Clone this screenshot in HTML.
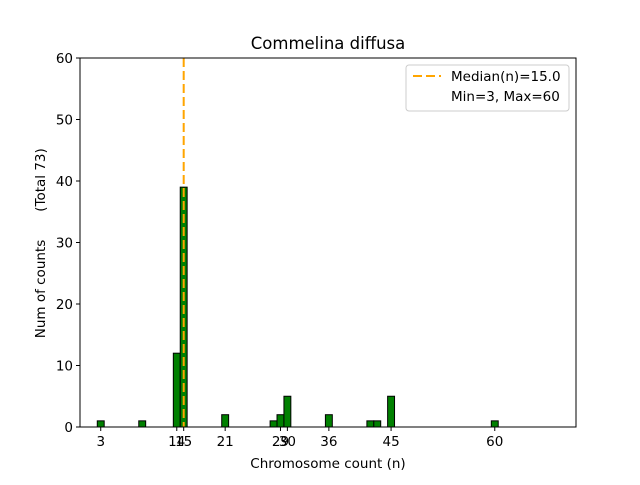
<!DOCTYPE html>
<html><head><meta charset="utf-8"><style>
body{margin:0;background:#fff;font-family:"Liberation Sans","DejaVu Sans",sans-serif}
svg text{font-family:"DejaVu Sans","Liberation Sans",sans-serif}
</style></head><body>
<svg id="c" width="640" height="480"></svg>
<script>
const counts=[3,9,14,15,21,28,29,30,36,42,43,45,60];
const freqs=[1,1,12,39,2,1,2,5,2,1,1,5,1];
const xTicks=[3,14,15,21,29,30,36,45,60];
const yTicks=[0,10,20,30,40,50,60];
const median=15.0;
const L=80,R=576,T=58,B=427,xMin=0,xMax=71.75,yMax=60;
const X=v=>L+(v-xMin)/(xMax-xMin)*(R-L);
const Y=v=>B-v/yMax*(B-T);
const s=document.getElementById('c');const NS='http://www.w3.org/2000/svg';
function mk(t,a,p){const e=document.createElementNS(NS,t);for(const k in a)e.setAttribute(k,a[k]);(p||s).appendChild(e);return e;}
let base=mk('line',{x1:X(2.5),x2:X(63.5),y1:B,y2:B,stroke:'#000','stroke-width':1});


counts.forEach((c,i)=>{const r=mk('rect',{x:X(c-0.5),y:Y(freqs[i]),width:X(c+0.5)-X(c-0.5),height:B-Y(freqs[i]),fill:'#008000',stroke:'#000','stroke-width':1});

});
let m=mk('line',{x1:X(median),x2:X(median),y1:Y(60),y2:B,stroke:'#ffa500','stroke-width':2,'stroke-dasharray':'9,4'});


let f=mk('rect',{x:L,y:T,width:R-L,height:B-T,fill:'none',stroke:'#000','stroke-width':1});


xTicks.forEach(v=>{mk('line',{x1:X(v),x2:X(v),y1:B,y2:B+4,stroke:'#000'});
const t=mk('text',{x:X(v),y:B+19,'text-anchor':'middle','font-size':13.5});t.textContent=v;

});
yTicks.forEach(v=>{mk('line',{x1:L-4,x2:L,y1:Y(v),y2:Y(v),stroke:'#000'});
const t=mk('text',{x:L-7,y:Y(v)+5,'text-anchor':'end','font-size':13.5});t.textContent=v;

});
</script>
<svg style="position:absolute;left:0;top:0" width="640" height="480">
<text x="328" y="49" text-anchor="middle" font-size="16.5">Commelina diffusa</text>
<text x="328" y="468" text-anchor="middle" font-size="13.5">Chromosome count (n)</text>
<text transform="translate(45,289) rotate(-90)" text-anchor="middle" font-size="13.5">Num of counts</text>
<text transform="translate(45,180) rotate(-90)" text-anchor="middle" font-size="13.5">(Total 73)</text>
<g>
<rect x="406" y="65" width="163" height="46" rx="3" fill="#fff" stroke="#ccc"/>
<line x1="413" x2="441" y1="76" y2="76" stroke="#ffa500" stroke-width="2" stroke-dasharray="9,4"/>
<text x="451" y="81" font-size="13.5">Median(n)=15.0</text>
<text x="451" y="101" font-size="13.5">Min=3, Max=60</text>
</g>
</svg>
</body></html>
